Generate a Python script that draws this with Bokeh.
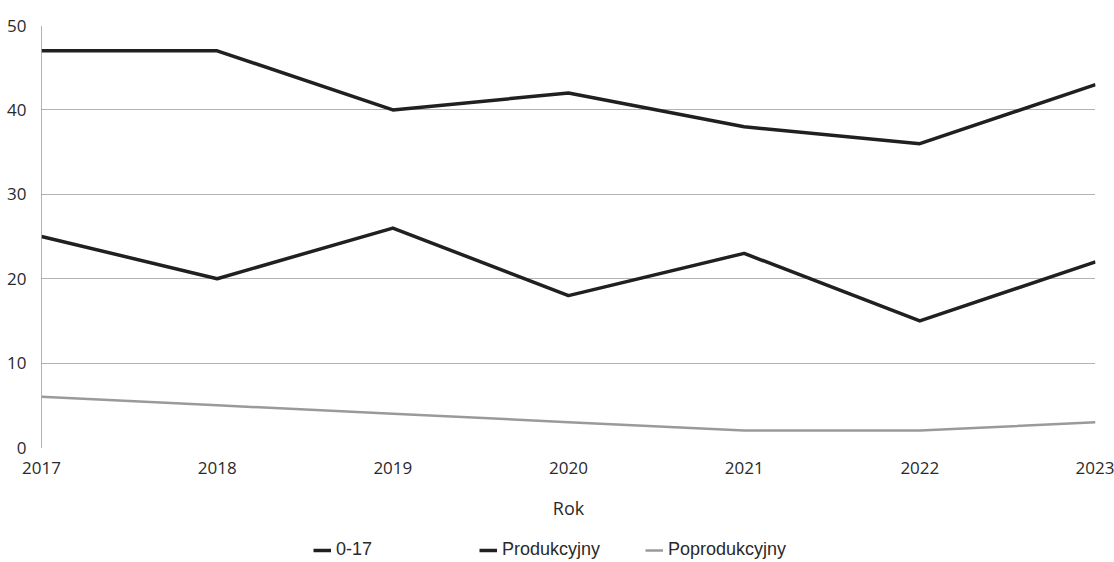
from bokeh.plotting import figure
from bokeh.models import Range1d, FixedTicker, Legend, LegendItem
from bokeh.layouts import column
from bokeh.embed import file_html
from bokeh.resources import INLINE

years = [2017, 2018, 2019, 2020, 2021, 2022, 2023]
s_0_17 = [25, 20, 26, 18, 23, 15, 22]
s_prod = [47, 47, 40, 42, 38, 36, 43]
s_poprod = [6, 5, 4, 3, 2, 2, 3]
y_ticks = [0, 10, 20, 30, 40, 50]
labels = ["0-17", "Produkcyjny", "Poprodukcyjny"]

DARK = "#202020"
LIGHT = "#9a9a9a"
TXT = "#2a2a2a"

p = figure(width=1114, height=524, output_backend="svg", toolbar_location=None,
           x_range=Range1d(2017, 2023), y_range=Range1d(0, 50),
           min_border_left=41, min_border_right=19, min_border_top=25, min_border_bottom=77)
p.outline_line_color = None

p.line(years, s_0_17, line_color=DARK, line_width=3.5, line_join="round")
p.line(years, s_prod, line_color=DARK, line_width=3.5, line_join="round")
p.line(years, s_poprod, line_color=LIGHT, line_width=2.5, line_join="round")

p.xgrid.grid_line_color = None
p.ygrid.ticker = FixedTicker(ticks=y_ticks)
p.ygrid.grid_line_color = "#666666"
p.ygrid.grid_line_dash = "1 1"
p.ygrid.grid_line_width = 1

p.yaxis.ticker = FixedTicker(ticks=y_ticks)
p.yaxis.major_tick_line_color = None
p.yaxis.minor_tick_line_color = None
p.yaxis.axis_line_color = "#666666"
p.yaxis.axis_line_dash = "1 1"
p.yaxis.major_label_standoff = 9
p.yaxis.major_label_text_font = "Open Sans"
p.yaxis.major_label_text_font_size = "17px"
p.yaxis.major_label_text_color = TXT

p.xaxis.ticker = FixedTicker(ticks=years)
p.xaxis.major_tick_line_color = None
p.xaxis.minor_tick_line_color = None
p.xaxis.axis_line_color = None
p.xaxis.major_label_standoff = 8
p.xaxis.major_label_text_font = "Open Sans"
p.xaxis.major_label_text_font_size = "17px"
p.xaxis.major_label_text_color = TXT
p.xaxis.axis_label = "Rok"
p.xaxis.axis_label_text_font = "Open Sans"
p.xaxis.axis_label_text_font_size = "18px"
p.xaxis.axis_label_text_font_style = "normal"
p.xaxis.axis_label_text_color = TXT
p.xaxis.axis_label_standoff = 19

# legend strip below the chart
lg = figure(width=1114, height=38, output_backend="svg", toolbar_location=None,
            x_range=Range1d(0, 1), y_range=Range1d(0, 1),
            min_border_left=0, min_border_right=0, min_border_top=0, min_border_bottom=0)
lg.axis.visible = False
lg.grid.visible = False
lg.outline_line_color = None
q1 = lg.line(years, s_0_17, line_color=DARK, line_width=3.5)
q2 = lg.line(years, s_prod, line_color=DARK, line_width=3.5)
q3 = lg.line(years, s_poprod, line_color=LIGHT, line_width=2.5)

legend = Legend(items=[LegendItem(label=labels[0], renderers=[q1]),
                       LegendItem(label=labels[1], renderers=[q2]),
                       LegendItem(label=labels[2], renderers=[q3])],
                orientation="horizontal", location=(272, 2),
                label_text_font="Liberation Sans", label_text_font_size="18px",
                label_text_color=TXT, glyph_width=18, glyph_height=16,
                label_standoff=5, label_width=110, spacing=33, padding=2, margin=0,
                border_line_color=None, background_fill_alpha=0)
lg.add_layout(legend, "center")

open("out.html", "w").write(file_html(column(p, lg, spacing=0), INLINE))
